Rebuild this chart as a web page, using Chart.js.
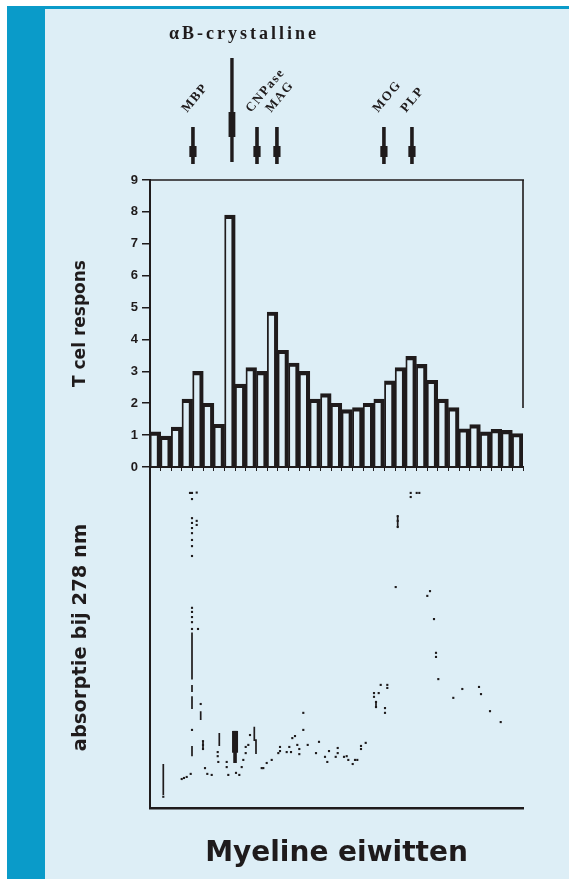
<!DOCTYPE html>
<html><head><meta charset="utf-8">
<script src="https://cdn.jsdelivr.net/npm/chart.js@4"></script>
<style>
html,body{margin:0;padding:0;background:#fff;}
#wrap{position:relative;width:569px;height:879px;overflow:hidden;background:#fff;}
#strip{position:absolute;left:7px;top:6px;width:38px;height:873px;background:#0a9bc9;}
#topline{position:absolute;left:45px;top:6px;width:524px;height:3px;background:#0a9bc9;}
#panel{position:absolute;left:45px;top:9px;width:524px;height:870px;background:#ddeef6;}
canvas{position:absolute;left:0;top:0;}
</style></head><body>
<div id="wrap"><div id="strip"></div><div id="topline"></div><div id="panel"></div>
<canvas id="upper" width="569" height="879"></canvas>
<canvas id="lower" width="569" height="879"></canvas>
</div>
<script>
// ---- data ----
const fractions = ['1','2','3','4','5','6','7','8','9','10','11','12','13','14','15','16','17','18',
  '19','20','21','22','23','24','25','26','27','28','29','30','31','32','33','34','35'];
const tcelRespons = [1.1, 0.97, 1.25, 2.13, 3.0, 2.0, 1.34, 7.9, 2.6, 3.12, 3.0, 4.86, 3.66, 3.26, 3.0,
  2.13, 2.3, 2.0, 1.8, 1.86, 2.0, 2.13, 2.7, 3.12, 3.47, 3.22, 2.72, 2.13, 1.86, 1.2, 1.33, 1.1, 1.18, 1.15, 1.05];
const responsTicks = [0, 1, 2, 3, 4, 5, 6, 7, 8, 9];

const markerLabels = ['MBP', 'CNPase', 'MAG', 'MOG', 'PLP'];
const markerFractions = [4.03, 10.04, 11.91, 21.95, 24.58];
const crystallinLabel = 'αB-crystalline';
const crystallinFraction = 7.69;
const crystallinLowerFraction = 7.98;
const crystallinLowerRange = [0.226, 0.132];

// absorption trace (fraction, absorbance) — sparse dotted recording
const absX = [1.248, 2.975, 3.190, 3.444, 3.819, 3.753, 3.941, 4.382, 3.941, 3.941, 3.941, 3.941, 3.941, 4.382, 4.382,
  3.941, 3.941, 3.941, 3.941, 3.941, 3.941, 3.941, 3.941, 4.504, 4.757, 3.941, 4.973, 4.973, 4.973, 5.161, 5.377, 5.790,
  6.353, 6.353, 6.409, 7.197, 7.197, 7.347, 8.070, 8.380, 8.605, 8.755, 8.980, 8.980, 9.224, 9.383, 10.481, 10.632,
  10.951, 11.420, 12.039, 12.199, 12.199, 12.827, 13.071, 13.231, 13.353, 13.606, 13.822, 14.010, 14.010, 14.385,
  14.385, 14.798, 15.577, 15.858, 16.421, 16.637, 16.796, 17.425, 17.613, 17.613, 18.204, 18.457, 18.607, 19.020,
  19.236, 19.452, 19.799, 19.799, 20.240, 21.019, 21.019, 21.207, 21.207, 21.460, 21.648, 22.051, 22.051, 22.267,
  22.267, 23.055, 23.243, 23.243, 23.243, 24.463, 24.463, 25.026, 25.270, 26.020, 26.274, 26.649, 26.837, 26.837,
  27.053, 28.460, 29.305, 30.872, 31.059, 31.904, 32.908];
const absY = [0.033, 0.085, 0.088, 0.091, 0.100, 0.924, 0.924, 0.925, 0.906, 0.850, 0.836, 0.821, 0.806, 0.842, 0.830,
  0.786, 0.768, 0.739, 0.587, 0.575, 0.560, 0.545, 0.525, 0.525, 0.305, 0.229, 0.196, 0.185, 0.173, 0.117, 0.100, 0.097,
  0.164, 0.152, 0.135, 0.135, 0.120, 0.097, 0.103, 0.097, 0.120, 0.141, 0.179, 0.161, 0.185, 0.214, 0.117, 0.117,
  0.132, 0.141, 0.161, 0.179, 0.167, 0.164, 0.179, 0.164, 0.205, 0.211, 0.185, 0.173, 0.158, 0.279,
  0.229, 0.185, 0.161, 0.194, 0.150, 0.135, 0.167, 0.150, 0.176, 0.161, 0.150, 0.152, 0.141, 0.129,
  0.141, 0.141, 0.182, 0.173, 0.191, 0.337, 0.326, 0.311, 0.296, 0.337, 0.361, 0.293, 0.279, 0.361,
  0.352, 0.648, 0.856, 0.842, 0.824, 0.924, 0.912, 0.924, 0.924, 0.622, 0.636, 0.554, 0.455, 0.443,
  0.378, 0.323, 0.349, 0.355, 0.334, 0.284, 0.252];
// solid pen strokes of the trace (null = gap)
const strokeX = [1.248, 1.248, null, 3.941, 3.941, null, 3.941, 3.941, null, 3.941, 3.941, null, 4.757, 4.757, null,
  3.941, 3.941, null, 4.973, 4.973, null, 6.503, 6.503, null, 9.787, 9.787, 9.946, 9.946, null, 23.243, 23.243, null, 21.207, 21.207];
const strokeY = [0.129, 0.038, null, 0.515, 0.377, null, 0.361, 0.340, null, 0.328, 0.290, null, 0.284, 0.258, null,
  0.182, 0.152, null, 0.196, 0.173, null, 0.220, 0.182, null, 0.238, 0.199, 0.199, 0.158, null, 0.856, 0.824, null, 0.311, 0.296];

// ---- styles ----
const ink = '#1f1b1c';
const frameRightEnd = 1.85;

const upperDeco = {
  id: 'upperDeco',
  afterDraw(chart) {
    const {ctx, chartArea: a, scales: {x, y}} = chart;
    const px = f => x.getPixelForValue(f - 0.5);
    ctx.save();
    ctx.strokeStyle = ink; ctx.fillStyle = ink; ctx.lineWidth = 1.6;
    ctx.beginPath();
    ctx.moveTo(a.left, a.top); ctx.lineTo(a.right + 1, a.top);
    ctx.moveTo(a.right, a.top); ctx.lineTo(a.right, y.getPixelForValue(frameRightEnd));
    ctx.stroke();
    // marker arrows
    markerFractions.forEach((f, i) => {
      const xp = px(f);
      ctx.fillRect(xp - 1.8, a.top - 53, 3.6, 37);
      ctx.fillRect(xp - 3.6, a.top - 34, 7.2, 11);
      ctx.save();
      ctx.translate(xp - 6, a.top - 67);
      ctx.rotate(-50 * Math.PI / 180);
      ctx.font = 'bold 13px "Liberation Serif"';
      ctx.letterSpacing = '1.5px';
      ctx.textAlign = 'left'; ctx.textBaseline = 'alphabetic';
      ctx.fillText(markerLabels[i], 0, 0);
      ctx.restore();
    });
    const cx = px(crystallinFraction);
    ctx.fillRect(cx - 1.7, a.top - 122, 3.4, 104);
    ctx.fillRect(cx - 3.4, a.top - 68, 6.8, 25);
    ctx.font = 'bold 18px "Liberation Serif"';
    ctx.letterSpacing = '3px';
    ctx.textAlign = 'center'; ctx.textBaseline = 'alphabetic';
    ctx.fillText(crystallinLabel, cx + 12, a.top - 141);
    ctx.restore();
  }
};

new Chart(document.getElementById('upper'), {
  type: 'bar',
  data: {
    labels: fractions,
    datasets: [{
      label: 'T cel respons',
      data: tcelRespons,
      backgroundColor: 'rgba(0,0,0,0)',
      borderColor: ink,
      borderWidth: {top: 3.5, right: 3.5, bottom: 0, left: 1.2},
      borderSkipped: false,
      categoryPercentage: 1,
      barPercentage: 1
    }]
  },
  options: {
    responsive: false, animation: false, devicePixelRatio: 1,
    layout: {padding: {left: 0, right: 46, top: 180, bottom: 400}},
    plugins: {legend: {display: false}, tooltip: {enabled: false}},
    scales: {
      x: {
        ticks: {display: false},
        grid: {display: true, drawOnChartArea: false, drawTicks: true, tickLength: 4, color: ink, lineWidth: 1, offset: true},
        border: {display: true, color: ink, width: 2},
        afterFit: s => { s.height = 12; }
      },
      y: {
        min: 0, max: 9,
        afterBuildTicks: s => { s.ticks = responsTicks.map(v => ({value: v})); },
        ticks: {color: ink, font: {family: '"Liberation Sans"', weight: 'bold', size: 13}, padding: 4},
        grid: {display: true, drawOnChartArea: false, drawTicks: true, tickLength: 8, color: ink, lineWidth: 1.5},
        border: {display: true, color: ink, width: 2},
        title: {display: true, text: 'T cel respons', color: ink,
          font: {family: '"DejaVu Sans"', weight: 'bold', size: 17}, padding: {top: 70, bottom: 0}},
        afterFit: s => { s.width = 150; }
      }
    }
  },
  plugins: [upperDeco]
});

const lowerDeco = {
  id: 'lowerDeco',
  afterDatasetsDraw(chart) {
    const {ctx, scales: {x, y}} = chart;
    const xp = x.getPixelForValue(crystallinLowerFraction);
    const y0 = y.getPixelForValue(crystallinLowerRange[0]);
    const y1 = y.getPixelForValue(crystallinLowerRange[1]);
    ctx.save();
    ctx.fillStyle = ink;
    ctx.fillRect(xp - 3, y0, 6, (y1 - y0) * 0.68);
    ctx.fillRect(xp - 1.8, y0, 3.6, y1 - y0);
    ctx.restore();
  }
};

new Chart(document.getElementById('lower'), {
  type: 'scatter',
  data: {
    datasets: [{
      label: 'absorptie',
      data: absX.map((v, i) => ({x: v, y: absY[i]})),
      pointStyle: 'rect', pointRadius: 1.5, pointBorderWidth: 0,
      backgroundColor: ink, borderColor: ink
    }, {
      label: 'absorptie (lijn)',
      data: strokeX.map((v, i) => ({x: v, y: strokeY[i]})),
      showLine: true, spanGaps: false, pointRadius: 0,
      borderColor: ink, borderWidth: 1.7
    }]
  },
  options: {
    responsive: false, animation: false, devicePixelRatio: 1,
    layout: {padding: {left: 0, right: 46, top: 467, bottom: 0}},
    plugins: {legend: {display: false}, tooltip: {enabled: false}},
    scales: {
      x: {
        type: 'linear', min: 0, max: 35,
        ticks: {display: false},
        grid: {display: false},
        border: {display: true, color: ink, width: 2.5},
        title: {display: true, text: 'Myeline eiwitten', color: ink,
          font: {family: '"DejaVu Sans"', weight: 'bold', size: 28}, padding: {top: 0, bottom: 8}},
        afterFit: s => { s.height = 71; }
      },
      y: {
        min: 0, max: 1,
        ticks: {display: false},
        grid: {display: false},
        border: {display: true, color: ink, width: 2},
        title: {display: true, text: 'absorptie bij 278 nm', color: ink,
          font: {family: '"DejaVu Sans"', weight: 'bold', size: 19.5}, padding: {top: 69, bottom: 0}},
        afterFit: s => { s.width = 150; }
      }
    }
  },
  plugins: [lowerDeco]
});
</script>
</body></html>
